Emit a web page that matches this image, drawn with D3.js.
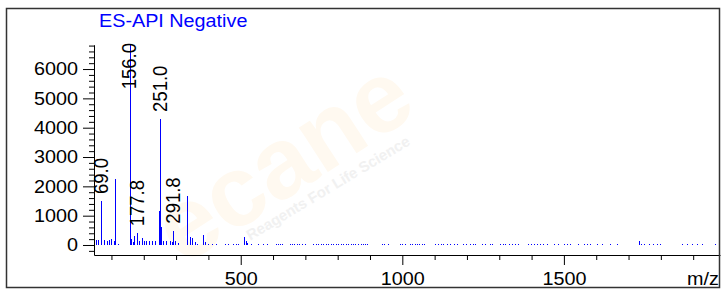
<!DOCTYPE html>
<html>
<head>
<meta charset="utf-8">
<script src="https://cdn.jsdelivr.net/npm/d3@7"></script>
<style>
  html, body { margin: 0; padding: 0; background: #fff; }
  svg { display: block; font-family: "Liberation Sans", Arial, sans-serif; }
</style>
</head>
<body>
<svg id="chart" width="723" height="292"></svg>
<script>
// spectrum
const peakMz = [52, 59, 69, 77, 85, 93, 100, 108, 112, 121,
  156, 160, 166, 171, 177.8, 185, 193, 200, 208, 217, 225, 235,
  248, 251, 253, 258, 269, 281, 286, 291.8, 297, 307,
  335, 343, 350, 358, 365, 384, 390, 400, 410, 425, 450, 460, 475,
  485, 493, 510, 515, 520, 531, 554, 570, 580, 608, 616, 622, 629,
  653, 660, 666, 673, 680, 691, 699, 725, 732, 740, 748, 755, 763,
  771, 778, 786, 794, 802, 809, 817, 825, 832, 840, 848, 855, 863,
  871, 878, 886, 892, 936, 944, 957, 993, 1000, 1009, 1024, 1031,
  1038, 1045, 1053, 1060, 1068, 1102, 1109, 1119, 1127, 1138, 1148,
  1159, 1169, 1189, 1198, 1210, 1220, 1225, 1246, 1256, 1270, 1277,
  1303, 1311, 1318, 1329, 1339, 1349, 1359, 1390, 1399, 1406, 1416,
  1427, 1435, 1447, 1468, 1483, 1499, 1509, 1519, 1545, 1561, 1573,
  1581, 1602, 1618, 1643, 1664, 1731, 1738, 1747, 1762, 1777, 1788,
  1798, 1865, 1881, 1896, 1912, 1927, 1968, 1979];
const peakIntensity = [170, 170, 1500, 170, 120, 170, 190, 130, 2240, 40,
  6830, 190, 100, 300, 400, 130, 230, 120, 150, 120, 150, 120,
  1150, 4300, 620, 150, 120, 150, 100, 490, 130, 80,
  1670, 280, 230, 110, 40, 340, 100, 40, 40, 40, 40, 40, 40,
  40, 40, 280, 150, 60, 40, 40, 40, 30, 40, 30, 40, 50,
  40, 40, 40, 50, 40, 40, 30, 40, 40, 30, 40, 40, 30,
  40, 40, 30, 40, 40, 30, 40, 40, 30, 40, 40, 30, 40,
  40, 30, 40, 40, 40, 30, 40, 40, 30, 40, 40, 40,
  30, 40, 40, 30, 40, 40, 40, 30, 40, 40, 30,
  40, 40, 40, 30, 40, 40, 30, 40, 40, 30, 40,
  40, 30, 40, 40, 30, 40, 40, 40, 30, 40, 40,
  30, 40, 40, 40, 30, 40, 40, 30, 40, 40, 30,
  40, 40, 30, 40, 40, 120, 40, 40, 30, 40, 40,
  30, 40, 40, 30, 40, 40, 40, 60];
const labelMz = [69.0, 156.0, 177.8, 251.0, 291.8];
const yTickValues = [0, 1000, 2000, 3000, 4000, 5000, 6000];
const xTickValues = [500, 1000, 1500];
const titleText = "ES-API Negative";
const xUnit = "m/z";

const peaks = peakMz.map((m, i) => ({ mz: m, v: peakIntensity[i] }));
const labels = labelMz.map(m => peaks.find(p => p.mz === m));

const svg = d3.select('#chart');
const fs = 18.5, stretch = 1.07;

// faint watermark
svg.append('text')
  .attr('transform', 'translate(282,160) rotate(-33)')
  .attr('text-anchor', 'middle').attr('dy', '0.35em')
  .attr('font-size', 100).attr('font-weight', 'bold')
  .attr('fill', '#fff9f0')
  .text('ecane');
svg.append('text')
  .attr('transform', 'translate(328,188) rotate(-31)')
  .attr('text-anchor', 'middle').attr('dy', '0.35em')
  .attr('font-size', 15).attr('font-weight', 'bold')
  .attr('fill', '#f1f1f1')
  .text('Reagents For Life Science');

const x = d3.scaleLinear().domain([46, 1983]).range([94, 720]);
const y = d3.scaleLinear().domain([-341, 6830]).range([255, 44.7]);

// y axis
const yMinor = d3.range(-200, 6801, 200);
const gy = svg.append('g').attr('transform', 'translate(94,0)')
  .call(d3.axisLeft(y).tickValues(yMinor).tickSize(5).tickSizeOuter(0)
    .tickFormat(d => yTickValues.includes(d) ? d : ''));
gy.selectAll('.tick line').attr('x2', d => yTickValues.includes(d) ? -11 : -5);
gy.selectAll('.tick text')
  .attr('x', 0)
  .attr('font-size', fs).attr('font-family', null)
  .attr('transform', `translate(-16,0) scale(${stretch},1)`);

// x axis
const xMinor = d3.range(100, 2000, 100);
const gx = svg.append('g').attr('transform', 'translate(0,255)')
  .call(d3.axisBottom(x).tickValues(xMinor).tickSize(5).tickSizeOuter(0).tickPadding(11.7)
    .tickFormat(d => xTickValues.includes(d) ? d : ''));
gx.selectAll('.tick line').attr('y2', d => xTickValues.includes(d) ? 10 : 5);
gx.selectAll('.tick text')
  .attr('font-size', fs).attr('font-family', null)
  .attr('transform', `scale(${stretch},1)`);
svg.selectAll('.domain').attr('stroke', '#000');

svg.append('text')
  .attr('transform', `translate(687,284.5) scale(${stretch},1)`)
  .attr('font-size', fs).attr('fill', '#000')
  .text(xUnit);

// spectrum lines
svg.append('g')
  .attr('stroke', '#0000ff').attr('stroke-width', 1).attr('shape-rendering', 'crispEdges')
  .selectAll('line').data(peaks).join('line')
  .attr('x1', d => Math.round(x(d.mz)) + 0.5)
  .attr('x2', d => Math.round(x(d.mz)) + 0.5)
  .attr('y1', y(0))
  .attr('y2', d => y(d.v));

// peak labels
const lab = svg.append('g').selectAll('text').data(labels).join('text')
  .attr('font-size', fs).attr('fill', '#000').attr('dy', '0.35em')
  .text(d => d.mz.toFixed(1));
lab.attr('transform', function(d) {
  const len = this.getComputedTextLength();
  const bottom = Math.max(y(d.v) - 7, 43 + len);
  return `translate(${x(d.mz)},${bottom}) scale(${stretch},1) rotate(-90)`;
});

// title
svg.append('text')
  .attr('transform', `translate(99,26.5) scale(${stretch},1)`)
  .attr('font-size', fs).attr('fill', '#0000ff')
  .text(titleText);

// frame
svg.append('rect')
  .attr('x', 6.5).attr('y', 8.5).attr('width', 713).attr('height', 279)
  .attr('fill', 'none').attr('stroke', '#333').attr('stroke-width', 1.5);
</script>
</body>
</html>
